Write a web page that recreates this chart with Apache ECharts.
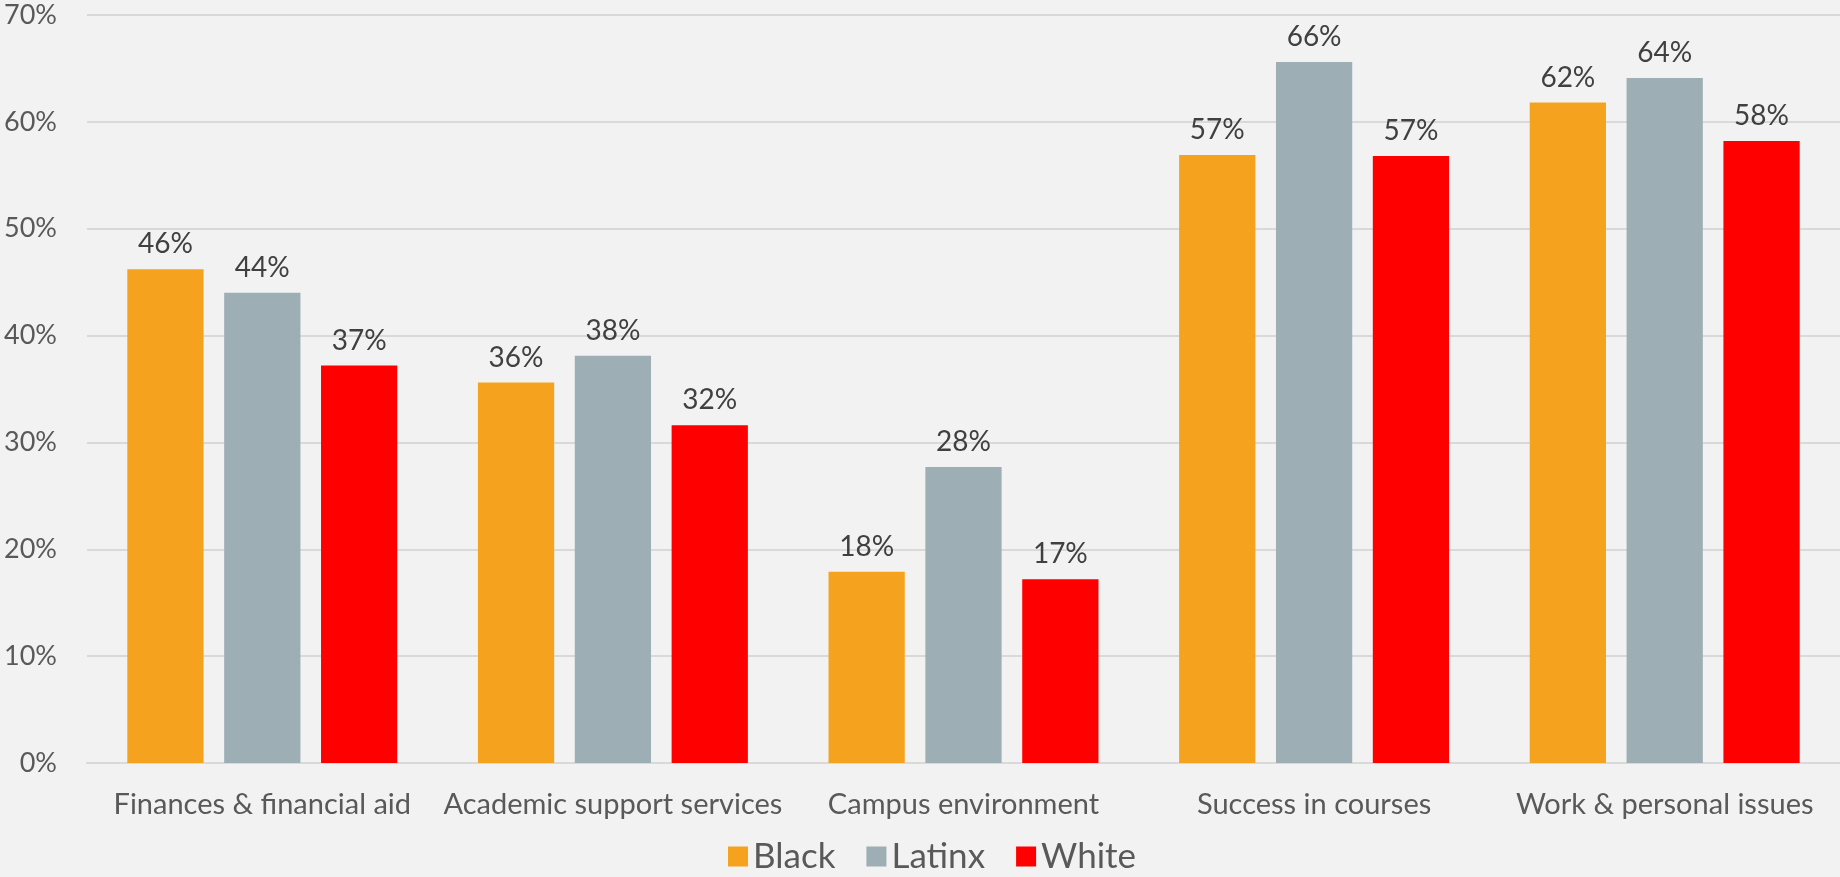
<!DOCTYPE html>
<html>
<head>
<meta charset="utf-8">
<script src="https://cdn.jsdelivr.net/npm/echarts@6/dist/echarts.min.js"></script>
<style>
html,body{margin:0;padding:0;background:#F2F2F2;}
#chart{width:1840px;height:877px;}
</style>
</head>
<body>
<div id="chart"></div>
<script>
const categories = ["Finances & financial aid", "Academic support services", "Campus environment", "Success in courses", "Work & personal issues"];
const seriesNames = ["Black", "Latinx", "White"];
const black = [46.2, 35.6, 17.9, 56.9, 61.8];
const latinx = [44.0, 38.1, 27.7, 65.6, 64.1];
const white = [37.2, 31.6, 17.2, 56.8, 58.2];
const yTicks = [0, 10, 20, 30, 40, 50, 60, 70];
const colors = ["#F5A31F", "#9DAFB4", "#FF0000"];

const FONT = "Lato";
const chart = echarts.init(document.getElementById('chart'), null, {renderer: 'canvas'});
const mk = (name, data, color) => ({
  name: name,
  type: 'bar',
  data: data,
  barGap: '27%',
  barCategoryGap: '23%',
  itemStyle: {color: color},
  label: {
    show: true,
    position: 'top',
    distance: 11,
    color: '#404040',
    fontFamily: FONT,
    fontSize: 28,
    formatter: p => Math.round(p.value) + '%'
  }
});
chart.setOption({
  backgroundColor: '#F2F2F2',
  animation: false,
  grid: {left: 87, right: 0, top: 15, bottom: 114, containLabel: false},
  legend: {
    data: seriesNames,
    left: 728,
    top: 839,
    itemWidth: 20,
    itemHeight: 20,
    itemGap: 31,
    icon: 'rect',
    padding: 0,
    textStyle: {color: '#595959', fontFamily: FONT, fontSize: 35, padding: [0,0,0,0]}
  },
  xAxis: {
    type: 'category',
    data: categories,
    axisLine: {show: true, lineStyle: {color: '#D9D9D9', width: 2}},
    axisTick: {show: false},
    axisLabel: {color: '#595959', fontFamily: FONT, fontSize: 29, margin: 27, interval: 0}
  },
  yAxis: {
    type: 'value',
    min: yTicks[0],
    max: yTicks[yTicks.length - 1],
    interval: 10,
    axisLine: {show: false},
    axisTick: {show: false},
    splitLine: {lineStyle: {color: '#D9D9D9', width: 2}},
    axisLabel: {color: '#595959', fontFamily: FONT, fontSize: 27, margin: 30, formatter: v => v + '%'}
  },
  series: [mk(seriesNames[0], black, colors[0]), mk(seriesNames[1], latinx, colors[1]), mk(seriesNames[2], white, colors[2])]
});
</script>
</body>
</html>
